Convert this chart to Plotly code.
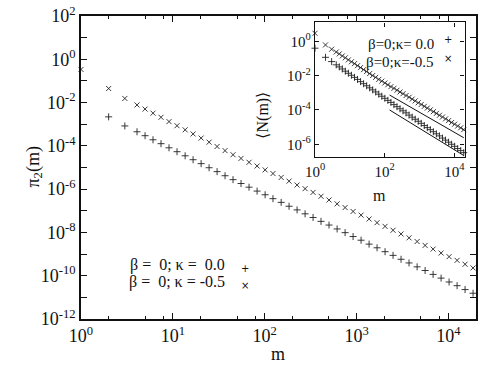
import plotly.graph_objects as go

# ---------------- data ----------------
# main panel: pi_2(m)
m_kappa_m05 = [1, 2, 3, 4.07, 4.98, 6.08, 7.43, 9.08, 11.1, 13.6, 16.6, 20.3, 24.8,
               30.3, 37.0, 45.2, 55.2, 67.5, 82.6, 101, 123, 151, 184, 225, 275,
               336, 410, 501, 614, 750, 916, 1119, 1368, 1671, 2042, 2495, 3048,
               3724, 4560, 5572, 6808, 8318, 10162, 12417, 15171, 18535]
pi2_kappa_m05 = [0.339, 0.0447, 0.0155,
                 7.76e-3, 5.01e-3, 3.24e-3, 2.09e-3, 1.32e-3,
                 8.51e-4, 5.50e-4, 3.55e-4, 2.29e-4, 1.48e-4,
                 9.33e-5, 6.03e-5, 3.89e-5, 2.63e-5, 1.74e-5,
                 1.17e-5, 7.76e-6, 5.25e-6, 3.47e-6, 2.34e-6,
                 1.55e-6, 1.05e-6, 7.08e-7, 4.68e-7, 3.16e-7,
                 2.09e-7, 1.41e-7, 9.33e-8, 6.31e-8, 4.17e-8,
                 2.82e-8, 1.91e-8, 1.26e-8, 8.51e-9, 5.62e-9,
                 3.80e-9, 2.51e-9, 1.70e-9, 1.12e-9, 7.59e-10,
                 5.13e-10, 3.39e-10, 2.29e-10]

m_kappa_0 = [2, 3, 4.07, 4.98, 6.08, 7.43, 9.08, 11.1, 13.6, 16.6, 20.3, 24.8,
             30.3, 37.0, 45.2, 55.2, 67.5, 82.6, 101, 123, 151, 184, 225, 275,
             336, 410, 501, 614, 750, 916, 1119, 1368, 1671, 2042, 2495, 3048,
             3724, 4560, 5572, 6808, 8318, 10162, 12417, 15171, 18535]
pi2_kappa_0 = [2.19e-3, 8.32e-4,
               4.47e-4, 2.95e-4, 1.91e-4, 1.26e-4, 8.13e-5,
               5.37e-5, 3.47e-5, 2.29e-5, 1.51e-5, 9.77e-6,
               6.46e-6, 4.17e-6, 2.75e-6, 1.82e-6, 1.23e-6,
               8.13e-7, 5.50e-7, 3.63e-7, 2.45e-7, 1.62e-7,
               1.10e-7, 7.24e-8, 4.90e-8, 3.24e-8, 2.19e-8,
               1.45e-8, 9.77e-9, 6.46e-9, 4.37e-9, 2.88e-9,
               1.95e-9, 1.29e-9, 8.71e-10, 5.75e-10, 3.89e-10,
               2.57e-10, 1.74e-10, 1.15e-10, 7.76e-11, 5.13e-11,
               3.47e-11, 2.29e-11, 1.55e-11]

# inset: <N(m)>
m_inset = [1, 2, 3, 4.07, 4.98, 6.08, 7.43, 9.08, 11.1, 13.6, 16.6, 20.3, 24.8,
           30.3, 37.0, 45.2, 55.2, 67.5, 82.6, 101, 123, 151, 184, 225, 275,
           336, 410, 501, 614, 750, 916, 1119, 1368, 1671, 2042, 2495, 3048,
           3724, 4560, 5572, 6808, 8318, 10162, 12417, 15171, 18535]
N_kappa_m05 = [2.95, 0.617, 0.347,
               2.40e-1, 1.86e-1, 1.41e-1, 1.10e-1, 8.32e-2,
               6.46e-2, 5.01e-2, 3.80e-2, 2.95e-2, 2.24e-2,
               1.74e-2, 1.32e-2, 1.02e-2, 7.94e-3, 6.03e-3,
               4.79e-3, 3.72e-3, 2.95e-3, 2.29e-3, 1.82e-3,
               1.41e-3, 1.12e-3, 8.91e-4, 6.92e-4, 5.50e-4,
               4.27e-4, 3.39e-4, 2.63e-4, 2.09e-4, 1.62e-4,
               1.29e-4, 1.02e-4, 7.94e-5, 6.31e-5, 4.90e-5,
               3.89e-5, 3.02e-5, 2.40e-5, 1.86e-5, 1.48e-5,
               1.15e-5, 9.12e-6, 7.08e-6]
N_kappa_0 = [0.398, 0.117, 0.066,
             4.27e-2, 3.24e-2, 2.45e-2, 1.82e-2, 1.38e-2,
             1.05e-2, 7.94e-3, 6.03e-3, 4.47e-3, 3.39e-3,
             2.57e-3, 1.95e-3, 1.48e-3, 1.12e-3, 8.32e-4,
             6.31e-4, 4.79e-4, 3.63e-4, 2.75e-4, 2.04e-4,
             1.55e-4, 1.17e-4, 8.91e-5, 6.76e-5, 5.01e-5,
             3.80e-5, 2.88e-5, 2.19e-5, 1.66e-5, 1.23e-5,
             9.33e-6, 7.08e-6, 5.37e-6, 4.07e-6, 3.09e-6,
             2.29e-6, 1.74e-6, 1.32e-6, 1.00e-6, 7.59e-7,
             5.62e-7, 4.27e-7, 3.24e-7]
fit_m = [138, 18600]
fit_upper = [7.41e-4, 2.40e-6]
fit_lower = [1.0e-4, 2.2e-7]

main_y_ticks = [1e2, 1e0, 1e-2, 1e-4, 1e-6, 1e-8, 1e-10, 1e-12]
main_y_labels = ["10<sup>2</sup>", "10<sup>0</sup>", "10<sup>-2</sup>", "10<sup>-4</sup>",
                 "10<sup>-6</sup>", "10<sup>-8</sup>", "10<sup>-10</sup>", "10<sup>-12</sup>"]
main_y_minor = [1e1, 1e-1, 1e-3, 1e-5, 1e-7, 1e-9, 1e-11]
main_x_ticks = [1, 10, 100, 1000, 10000]
main_x_labels = ["10<sup>0</sup>", "10<sup>1</sup>", "10<sup>2</sup>", "10<sup>3</sup>", "10<sup>4</sup>"]
main_x_minor = [2, 5, 8, 20, 50, 80, 200, 500, 800, 2000, 5000, 8000]
inset_x_ticks = [1, 100, 10000]
inset_x_labels = ["10<sup>0</sup>", "10<sup>2</sup>", "10<sup>4</sup>"]
inset_y_ticks = [1e0, 1e-2, 1e-4, 1e-6]
inset_y_labels = ["10<sup>0</sup>", "10<sup>-2</sup>", "10<sup>-4</sup>", "10<sup>-6</sup>"]

W, H = 480, 372
FONT = "Liberation Serif"
BLACK = "#111111"
MARK = "#222222"


def px_x(p):
    return p / W


def px_y(p):
    return 1 - p / H


fig = go.Figure()

xmark = dict(symbol="x-thin", size=5, line=dict(width=0.9, color=MARK), color=MARK)
pmark = dict(symbol="cross-thin", size=5, line=dict(width=0.9, color=MARK), color=MARK)

fig.add_trace(go.Scatter(x=m_kappa_m05, y=pi2_kappa_m05, mode="markers", marker=xmark,
                         xaxis="x", yaxis="y", cliponaxis=False, showlegend=False))
fig.add_trace(go.Scatter(x=m_kappa_0, y=pi2_kappa_0, mode="markers", marker=pmark,
                         xaxis="x", yaxis="y", cliponaxis=False, showlegend=False))

xmark2 = dict(symbol="x-thin", size=5, line=dict(width=0.9, color=MARK), color=MARK)
pmark2 = dict(symbol="cross-thin", size=5, line=dict(width=0.9, color=MARK), color=MARK)
fig.add_trace(go.Scatter(x=m_inset, y=N_kappa_m05, mode="markers", marker=xmark2,
                         xaxis="x2", yaxis="y2", cliponaxis=False, showlegend=False))
fig.add_trace(go.Scatter(x=m_inset, y=N_kappa_0, mode="markers", marker=pmark2,
                         xaxis="x2", yaxis="y2", cliponaxis=False, showlegend=False))
fig.add_trace(go.Scatter(x=fit_m, y=fit_upper, mode="lines", line=dict(color=BLACK, width=1),
                         xaxis="x2", yaxis="y2", showlegend=False))
fig.add_trace(go.Scatter(x=fit_m, y=fit_lower, mode="lines", line=dict(color=BLACK, width=1),
                         xaxis="x2", yaxis="y2", showlegend=False))

axis_common = dict(type="log", showline=True, linecolor=BLACK, mirror="allticks",
                   ticks="inside", tickcolor=BLACK, showgrid=False, zeroline=False,
                   tickmode="array", automargin=False)

fig.update_layout(
    width=W, height=H,
    margin=dict(l=0, r=0, t=0, b=0, autoexpand=False),
    paper_bgcolor="white", plot_bgcolor="white",
    font=dict(family=FONT, color=BLACK),
    xaxis=dict(axis_common, domain=[px_x(81), px_x(476)], range=[0, 4.30], anchor="y",
               linewidth=1.6, ticklen=6, tickwidth=1,
               tickvals=main_x_ticks, ticktext=main_x_labels,
               tickfont=dict(size=18, family=FONT),
               minor=dict(tickvals=main_x_minor, ticklen=3, ticks="inside", tickcolor=BLACK)),
    yaxis=dict(axis_common, domain=[px_y(319), px_y(16)], range=[-12, 2], anchor="x",
               linewidth=1.6, ticklen=6, tickwidth=1,
               tickvals=main_y_ticks, ticktext=main_y_labels,
               tickfont=dict(size=18, family=FONT),
               minor=dict(tickvals=main_y_minor, ticklen=6, ticks="inside", tickcolor=BLACK)),
    xaxis2=dict(axis_common, domain=[px_x(315), px_x(464.5)], range=[0, 4.29], anchor="y2",
                linewidth=1.4, ticklen=4, tickwidth=1,
                tickvals=inset_x_ticks, ticktext=inset_x_labels,
                tickfont=dict(size=15, family=FONT)),
    yaxis2=dict(axis_common, domain=[px_y(157.3), px_y(22.3)], range=[-6.76, 1.11], anchor="x2",
                linewidth=1.4, ticklen=4, tickwidth=1,
                tickvals=inset_y_ticks, ticktext=inset_y_labels,
                tickfont=dict(size=15, family=FONT)),
)

ann = []
# axis titles
ann.append(dict(text="m", x=px_x(278), y=px_y(366), xref="paper", yref="paper",
                showarrow=False, font=dict(size=18, family=FONT)))
ann.append(dict(text="π<sub>2</sub>(m)", x=px_x(20), y=px_y(167), xref="paper", yref="paper",
                showarrow=False, textangle=-90, font=dict(size=18, family=FONT)))
ann.append(dict(text="m", x=px_x(388), y=px_y(195), xref="paper", yref="paper",
                showarrow=False, font=dict(size=16, family=FONT)))
ann.append(dict(text="⟨N(m)⟩", x=px_x(262), y=px_y(90), xref="paper", yref="paper",
                showarrow=False, textangle=-90, font=dict(size=16, family=FONT)))
# main legend
ann.append(dict(text="β =  0; κ =  0.0", x=px_x(227), y=px_y(276), xref="paper", yref="paper",
                xanchor="right", showarrow=False, font=dict(size=16, family=FONT)))
ann.append(dict(text="β =  0; κ = -0.5", x=px_x(227), y=px_y(293), xref="paper", yref="paper",
                xanchor="right", showarrow=False, font=dict(size=16, family=FONT)))
ann.append(dict(text="+", x=px_x(245), y=px_y(276), xref="paper", yref="paper",
                showarrow=False, font=dict(size=10, family="DejaVu Sans", color=BLACK)))
ann.append(dict(text="×", x=px_x(245), y=px_y(293), xref="paper", yref="paper",
                showarrow=False, font=dict(size=10, family="DejaVu Sans", color=BLACK)))
# inset legend
ann.append(dict(text="β=0;κ= 0.0", x=px_x(436), y=px_y(34), xref="paper", yref="paper",
                xanchor="right", showarrow=False, font=dict(size=15, family=FONT)))
ann.append(dict(text="β=0;κ=-0.5", x=px_x(436), y=px_y(52), xref="paper", yref="paper",
                xanchor="right", showarrow=False, font=dict(size=15, family=FONT)))
ann.append(dict(text="+", x=px_x(454), y=px_y(32), xref="paper", yref="paper",
                showarrow=False, font=dict(size=10, family="DejaVu Sans", color=BLACK)))
ann.append(dict(text="×", x=px_x(454), y=px_y(51), xref="paper", yref="paper",
                showarrow=False, font=dict(size=10, family="DejaVu Sans", color=BLACK)))
fig.update_layout(annotations=ann)

fig.write_html("out.html")
